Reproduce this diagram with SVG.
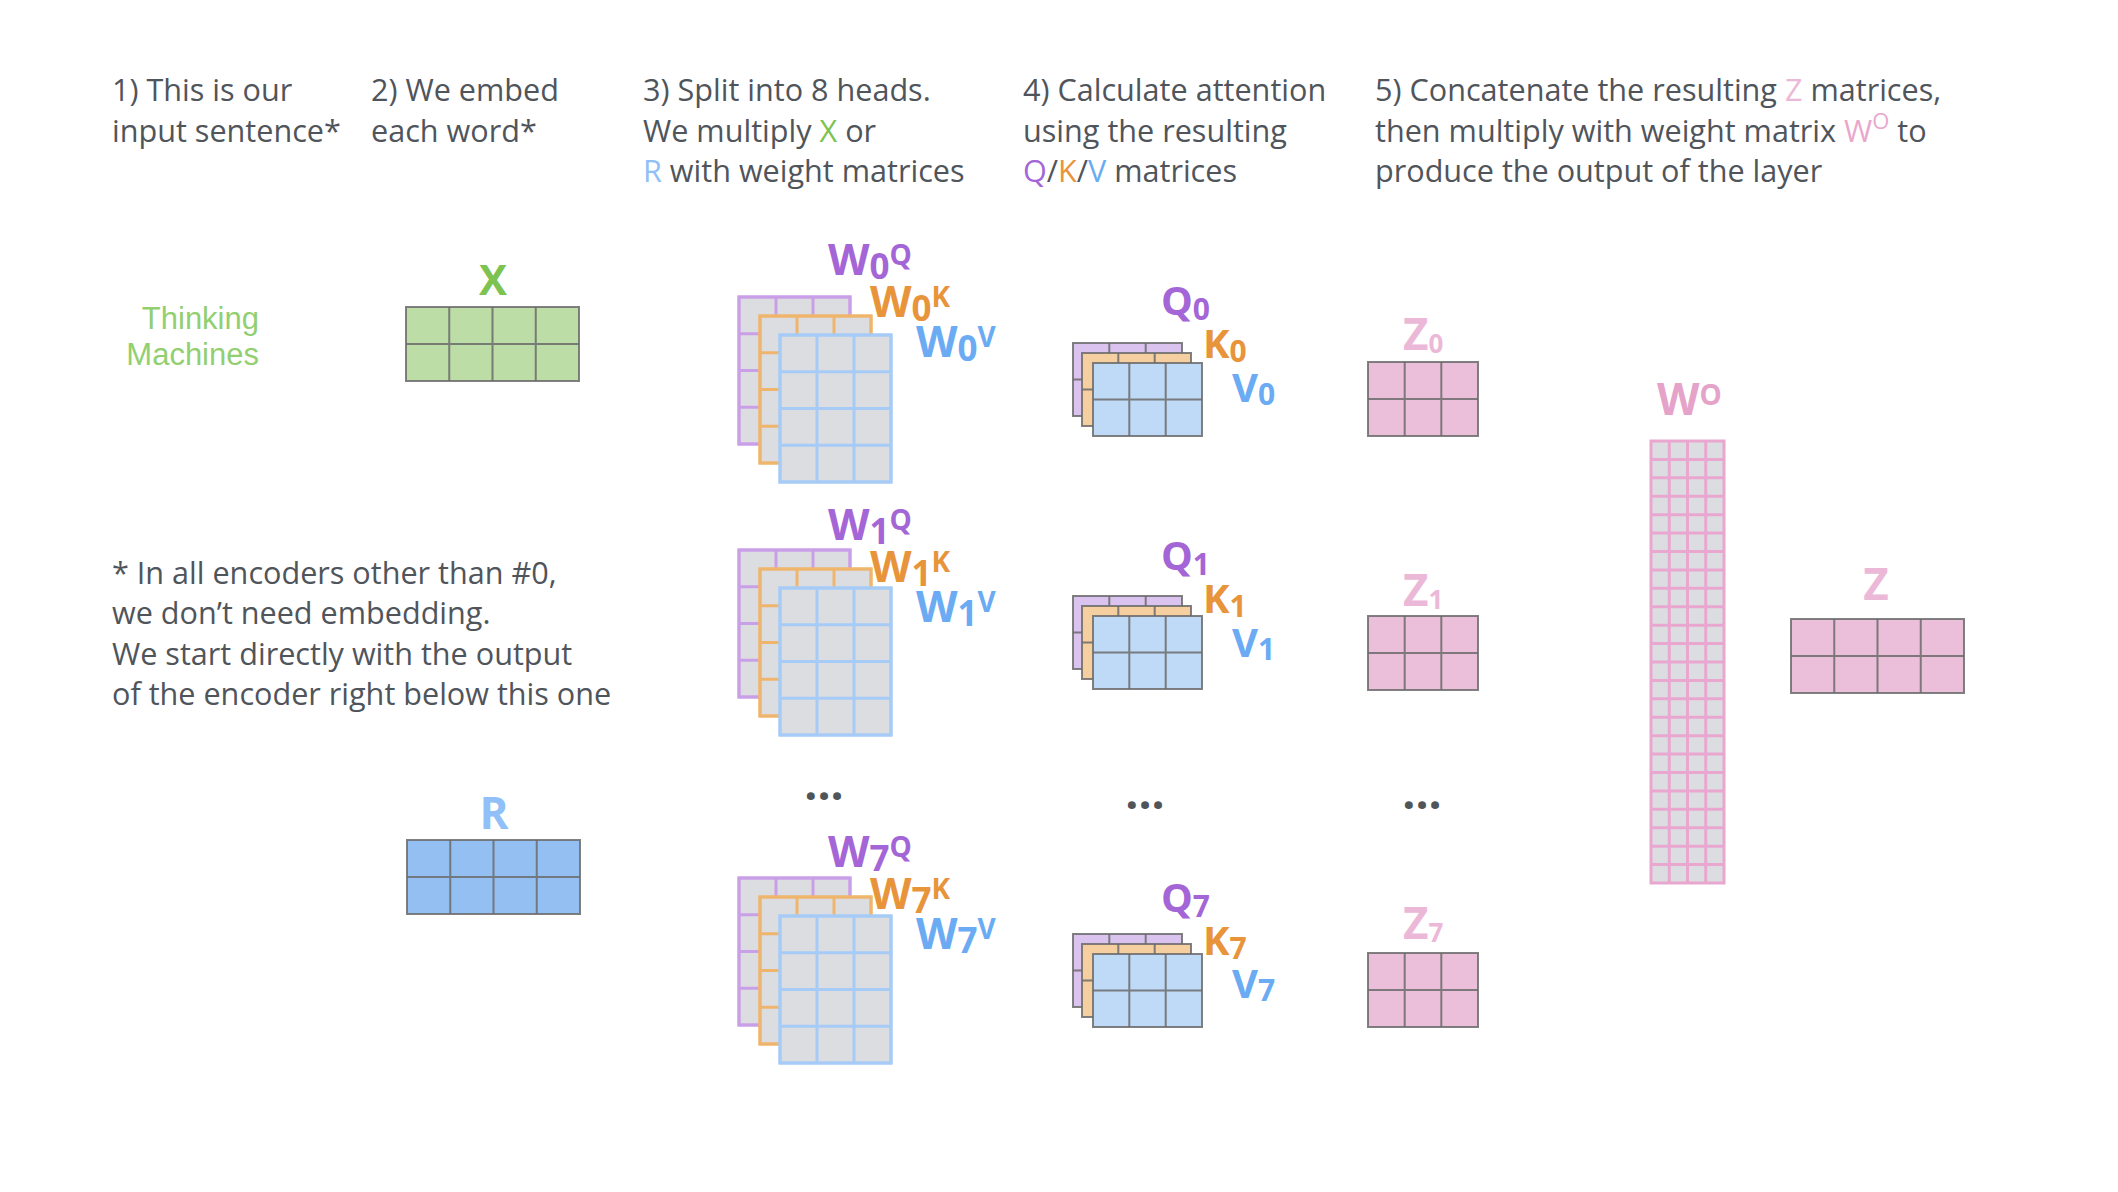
<svg xmlns="http://www.w3.org/2000/svg" width="2118" height="1192" viewBox="0 0 2118 1192">
<style>
.t{font-family:"Open Sans","Liberation Sans",sans-serif;font-size:30.6px;fill:#50555b}
.lb{font-family:"Open Sans","Liberation Sans",sans-serif;font-weight:700}
.dots{font-family:"Open Sans","Liberation Sans",sans-serif;font-weight:700;font-size:46px;fill:#50555a;text-anchor:middle}
.pu{fill:#a466d6}.or{fill:#e8943a}.bl{fill:#6aabf3}.pk{fill:#ebb9d7}.gr{fill:#7dc352}
.gm{stroke:#6b6b6b;stroke-width:2;stroke-opacity:0.85}
.wl{stroke-width:3}
</style>
<defs>
<g id="wg"><rect width="111" height="147" fill="#dcdde0"/><path d="M0,0H111V147H0Z M37,0V147 M74,0V147 M0,36.75H111 M0,73.5H111 M0,110.25H111" fill="none"/></g>
<g id="wstack" class="wl"><use href="#wg" stroke="#c9a0e8"/><use href="#wg" x="21" y="19" stroke="#f0b56c"/><use href="#wg" x="41" y="38" stroke="#a6cbf6"/></g>
<g id="qg"><rect width="109" height="73"/><path d="M36.3,0V73 M72.7,0V73 M0,36.5H109" fill="none"/></g>
<g id="qstack" class="gm"><use href="#qg" fill="#dac3ef"/><use href="#qg" x="9" y="10" fill="#f5cf9f"/><use href="#qg" x="20" y="20" fill="#bfdaf6"/></g>
<g id="zg" class="gm"><rect width="110" height="74" fill="#ebbed9"/><path d="M36.7,0V74 M73.3,0V74 M0,37H110" fill="none"/></g>
<g id="m4" class="gm"><rect width="173" height="74"/><path d="M43.25,0V74 M86.5,0V74 M129.75,0V74 M0,37H173" fill="none"/></g>
</defs>

<g id="headers">
<text class="t" x="112" y="101">1) This is our</text>
<text class="t" x="112" y="142">input sentence*</text>
<text class="t" x="371" y="101">2) We embed</text>
<text class="t" x="371" y="142">each word*</text>
<text class="t" x="643" y="101">3) Split into 8 heads.</text>
<text class="t" x="643" y="142">We multiply <tspan class="gr">X</tspan> or</text>
<text class="t" x="643" y="182"><tspan fill="#90c0f7">R</tspan> with weight matrices</text>
<text class="t" x="1023" y="101">4) Calculate attention</text>
<text class="t" x="1023" y="142">using the resulting</text>
<text class="t" x="1023" y="182"><tspan class="pu">Q</tspan>/<tspan class="or">K</tspan>/<tspan class="bl">V</tspan> matrices</text>
<text class="t" x="1375" y="101">5) Concatenate the resulting <tspan class="pk">Z</tspan> matrices,</text>
<text class="t" x="1375" y="142">then multiply with weight matrix <tspan fill="#e9a7cd">W<tspan font-size="22" dy="-13">O</tspan></tspan><tspan dy="13"> to</tspan></text>
<text class="t" x="1375" y="182">produce the output of the layer</text>
</g>

<g id="note">
<text class="t" x="112" y="584">* In all encoders other than #0,</text>
<text class="t" x="112" y="624">we don’t need embedding.</text>
<text class="t" x="112" y="665">We start directly with the output</text>
<text class="t" x="112" y="705">of the encoder right below this one</text>
</g>

<g id="sentence">
<text x="259" y="329" font-family="Liberation Sans, Arial, sans-serif" font-size="31" fill="#92cf70" text-anchor="end">Thinking</text>
<text x="259" y="365" font-family="Liberation Sans, Arial, sans-serif" font-size="31" fill="#92cf70" text-anchor="end">Machines</text>
</g>

<g id="X">
<text class="lb gr" x="493" y="295" font-size="42" text-anchor="middle">X</text>
<use href="#m4" x="406" y="307" fill="#bcdea6"/>
</g>
<g id="R">
<text class="lb" x="494" y="829" font-size="44" text-anchor="middle" fill="#90c0f7">R</text>
<use href="#m4" x="407" y="840" fill="#93bff3"/>
</g>

<g id="W0">
<use href="#wstack" x="739" y="297"/>
<text class="lb pu" x="828" y="275" font-size="43">W<tspan font-size="35" dy="4">0</tspan><tspan font-size="28" dy="-14">Q</tspan></text>
<text class="lb or" x="870" y="317" font-size="43">W<tspan font-size="35" dy="4">0</tspan><tspan font-size="28" dy="-14">K</tspan></text>
<text class="lb bl" x="916" y="357" font-size="43">W<tspan font-size="35" dy="4">0</tspan><tspan font-size="28" dy="-14">V</tspan></text>
</g>
<g id="W1">
<use href="#wstack" x="739" y="550"/>
<text class="lb pu" x="828" y="540" font-size="43">W<tspan font-size="35" dy="4">1</tspan><tspan font-size="28" dy="-14">Q</tspan></text>
<text class="lb or" x="870" y="582" font-size="43">W<tspan font-size="35" dy="4">1</tspan><tspan font-size="28" dy="-14">K</tspan></text>
<text class="lb bl" x="916" y="622" font-size="43">W<tspan font-size="35" dy="4">1</tspan><tspan font-size="28" dy="-14">V</tspan></text>
</g>
<g id="W7">
<use href="#wstack" x="739" y="878"/>
<text class="lb pu" x="828" y="867" font-size="43">W<tspan font-size="35" dy="4">7</tspan><tspan font-size="28" dy="-14">Q</tspan></text>
<text class="lb or" x="870" y="909" font-size="43">W<tspan font-size="35" dy="4">7</tspan><tspan font-size="28" dy="-14">K</tspan></text>
<text class="lb bl" x="916" y="949" font-size="43">W<tspan font-size="35" dy="4">7</tspan><tspan font-size="28" dy="-14">V</tspan></text>
</g>

<g id="QKV0">
<use href="#qstack" x="1073" y="343"/>
<text class="lb pu" x="1161" y="315" font-size="40">Q<tspan font-size="30" dy="5">0</tspan></text>
<text class="lb or" x="1203" y="358" font-size="40">K<tspan font-size="30" dy="4">0</tspan></text>
<text class="lb bl" x="1232" y="402" font-size="40">V<tspan font-size="30" dy="3">0</tspan></text>
</g>
<g id="QKV1">
<use href="#qstack" x="1073" y="596"/>
<text class="lb pu" x="1161" y="570" font-size="40">Q<tspan font-size="30" dy="5">1</tspan></text>
<text class="lb or" x="1203" y="613" font-size="40">K<tspan font-size="30" dy="4">1</tspan></text>
<text class="lb bl" x="1232" y="657" font-size="40">V<tspan font-size="30" dy="3">1</tspan></text>
</g>
<g id="QKV7">
<use href="#qstack" x="1073" y="934"/>
<text class="lb pu" x="1161" y="912" font-size="40">Q<tspan font-size="30" dy="5">7</tspan></text>
<text class="lb or" x="1203" y="955" font-size="40">K<tspan font-size="30" dy="4">7</tspan></text>
<text class="lb bl" x="1232" y="998" font-size="40">V<tspan font-size="30" dy="3">7</tspan></text>
</g>

<g id="Z0">
<text class="lb pk" x="1403" y="350" font-size="44">Z<tspan font-size="26" dy="3">0</tspan></text>
<use href="#zg" x="1368" y="362"/>
</g>
<g id="Z1">
<text class="lb pk" x="1403" y="606" font-size="44">Z<tspan font-size="26" dy="3">1</tspan></text>
<use href="#zg" x="1368" y="616"/>
</g>
<g id="Z7">
<text class="lb pk" x="1403" y="939" font-size="44">Z<tspan font-size="26" dy="3">7</tspan></text>
<use href="#zg" x="1368" y="953"/>
</g>

<g id="WO">
<text class="lb" x="1657" y="415" font-size="44" fill="#e5a3ca">W<tspan font-size="28" dy="-10">O</tspan></text>
<g transform="translate(1651,441)">
<rect width="73" height="442" fill="#dcdde0" stroke="#e9a6cf" stroke-width="3"/>
<path fill="none" stroke="#e9a6cf" stroke-width="3" d="M18.25,0V442 M36.5,0V442 M54.75,0V442 M0,18.42H73 M0,36.83H73 M0,55.25H73 M0,73.67H73 M0,92.08H73 M0,110.5H73 M0,128.92H73 M0,147.33H73 M0,165.75H73 M0,184.17H73 M0,202.58H73 M0,221H73 M0,239.42H73 M0,257.83H73 M0,276.25H73 M0,294.67H73 M0,313.08H73 M0,331.5H73 M0,349.92H73 M0,368.33H73 M0,386.75H73 M0,405.17H73 M0,423.58H73"/>
</g>
</g>

<g id="Z">
<text class="lb pk" x="1876" y="600" font-size="44" text-anchor="middle">Z</text>
<use href="#m4" x="1791" y="619" fill="#ebbed9"/>
</g>

<g id="ellipses">
<text class="dots" x="824" y="800">...</text>
<text class="dots" x="1145" y="809">...</text>
<text class="dots" x="1422" y="809">...</text>
</g>
<g id="connectors"/>
</svg>
